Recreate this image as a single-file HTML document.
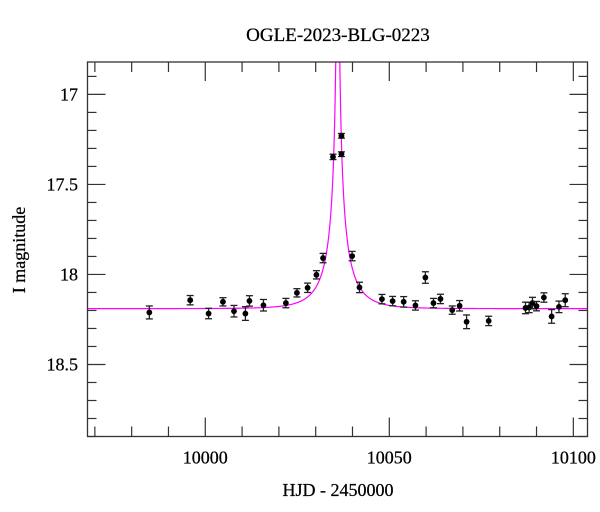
<!DOCTYPE html>
<html><head><meta charset="utf-8"><style>
body{margin:0;background:#fff;}
svg{display:block;font-family:"Liberation Serif",serif;}
text{stroke:#000;stroke-width:0.25px;}
</style></head><body>
<svg id="chart" width="600" height="512">
<text x="338" y="41" text-anchor="middle" font-size="19">OGLE-2023-BLG-0223</text>
<text x="338" y="496" text-anchor="middle" font-size="18">HJD - 2450000</text>
<text transform="translate(25,250) rotate(-90)" text-anchor="middle" font-size="18">I magnitude</text>
</svg>
<script>
const hjd=[9984.8,9995.9,10000.9,10004.8,10007.8,10010.9,10012.0,10015.8,10021.9,10024.9,10027.8,10030.2,10032.0,10034.7,10037.0,10037.0,10039.9,10041.9,10048.0,10050.9,10053.9,10057.1,10059.8,10062.0,10063.9,10067.1,10069.1,10071.0,10077.0,10087.0,10088.0,10088.9,10090.0,10092.0,10094.1,10096.1,10097.8];
const mags=[18.211,18.143,18.217,18.152,18.204,18.217,18.147,18.171,18.159,18.102,18.074,18.002,17.909,17.347,17.332,17.230,17.898,18.072,18.137,18.148,18.152,18.172,18.017,18.159,18.136,18.198,18.174,18.263,18.258,18.186,18.183,18.159,18.176,18.128,18.233,18.180,18.143];
const errs=[0.036,0.026,0.029,0.023,0.032,0.038,0.029,0.032,0.026,0.023,0.026,0.023,0.026,0.015,0.013,0.013,0.026,0.029,0.026,0.026,0.029,0.026,0.032,0.026,0.026,0.023,0.029,0.038,0.026,0.032,0.029,0.032,0.026,0.026,0.038,0.032,0.036];
const xTicks=[10000,10050,10100];
const yTicks=[17,17.5,18,18.5];
const model={base:18.19,t0:10036.0,u0:0.01,tE:8,fs:0.19};
const L=87.5,R=587.5,T=62,B=436.5;
const xMin=9968.0,xMax=10103.85,yMin=16.82,yMax=18.9;
const X=t=>L+(t-xMin)/(xMax-xMin)*(R-L);
const Y=m=>T+(m-yMin)/(yMax-yMin)*(B-T);
const svg=document.getElementById('chart');
const NS='http://www.w3.org/2000/svg';
function mk(tag,attrs){const e=document.createElementNS(NS,tag);for(const k in attrs)e.setAttribute(k,attrs[k]);svg.appendChild(e);return e;}
const defs=mk('defs',{});
const cp=document.createElementNS(NS,'clipPath');cp.setAttribute('id','clip');
const cr=document.createElementNS(NS,'rect');cr.setAttribute('x',L);cr.setAttribute('y',T);cr.setAttribute('width',R-L);cr.setAttribute('height',B-T);
cp.appendChild(cr);defs.appendChild(cp);
function modelMag(t){const u=Math.sqrt(model.u0*model.u0+Math.pow((t-model.t0)/model.tE,2));const A=(u*u+2)/(u*Math.sqrt(u*u+4));return model.base-2.5*Math.log10(1+model.fs*(A-1));}
let d='';
for(let px=L;px<=R;px+=0.25){const t=xMin+(px-L)/(R-L)*(xMax-xMin);d+=(d?'L':'M')+px.toFixed(2)+','+Y(modelMag(t)).toFixed(2);}
const curve=mk('path',{d:d,fill:'none',stroke:'#ff00ff','stroke-width':1.2,'clip-path':'url(#clip)'});


hjd.forEach((t,i)=>{
 const x=X(t),y1=Y(mags[i]-errs[i]),y2=Y(mags[i]+errs[i]);
 const g=mk('g',{stroke:'#222','stroke-width':1.3});
 
 
 const a=[[x,y1,x,y2],[x-3.5,y1,x+3.5,y1],[x-3.5,y2,x+3.5,y2]];
 a.forEach(s=>{const l=document.createElementNS(NS,'line');l.setAttribute('x1',s[0]);l.setAttribute('y1',s[1]);l.setAttribute('x2',s[2]);l.setAttribute('y2',s[3]);g.appendChild(l);});
 const c=document.createElementNS(NS,'circle');c.setAttribute('cx',x);c.setAttribute('cy',Y(mags[i]));c.setAttribute('r',2.9);c.setAttribute('fill','#000');c.setAttribute('stroke','none');g.appendChild(c);
});
const fr=mk('rect',{x:L,y:T,width:R-L,height:B-T,fill:'none',stroke:'#333','stroke-width':1.3});


for(let t=9970;t<=xMax;t+=10){
 const major=xTicks.includes(t);const len=major?19:10;const x=X(t);
 mk('line',{x1:x,y1:B,x2:x,y2:B-len,stroke:'#333','stroke-width':1.2});
 mk('line',{x1:x,y1:T,x2:x,y2:T+len,stroke:'#333','stroke-width':1.2});
}
xTicks.forEach(t=>{const e=mk('text',{x:X(t),y:B+27,'text-anchor':'middle','font-size':18});e.textContent=t;
 
 });
for(let k=17;k<=189;k++){const m=k/10;if(m<yMin||m>yMax)continue;
 const major=yTicks.some(v=>Math.abs(v-m)<1e-6);const len=major?18:9;const y=Y(m);
 mk('line',{x1:L,y1:y,x2:L+len,y2:y,stroke:'#333','stroke-width':1.2});
 mk('line',{x1:R,y1:y,x2:R-len,y2:y,stroke:'#333','stroke-width':1.2});
}
yTicks.forEach(m=>{const e=mk('text',{x:78,y:Y(m)+6,'text-anchor':'end','font-size':18});e.textContent=String(m);
 
 });
</script>
</body></html>
